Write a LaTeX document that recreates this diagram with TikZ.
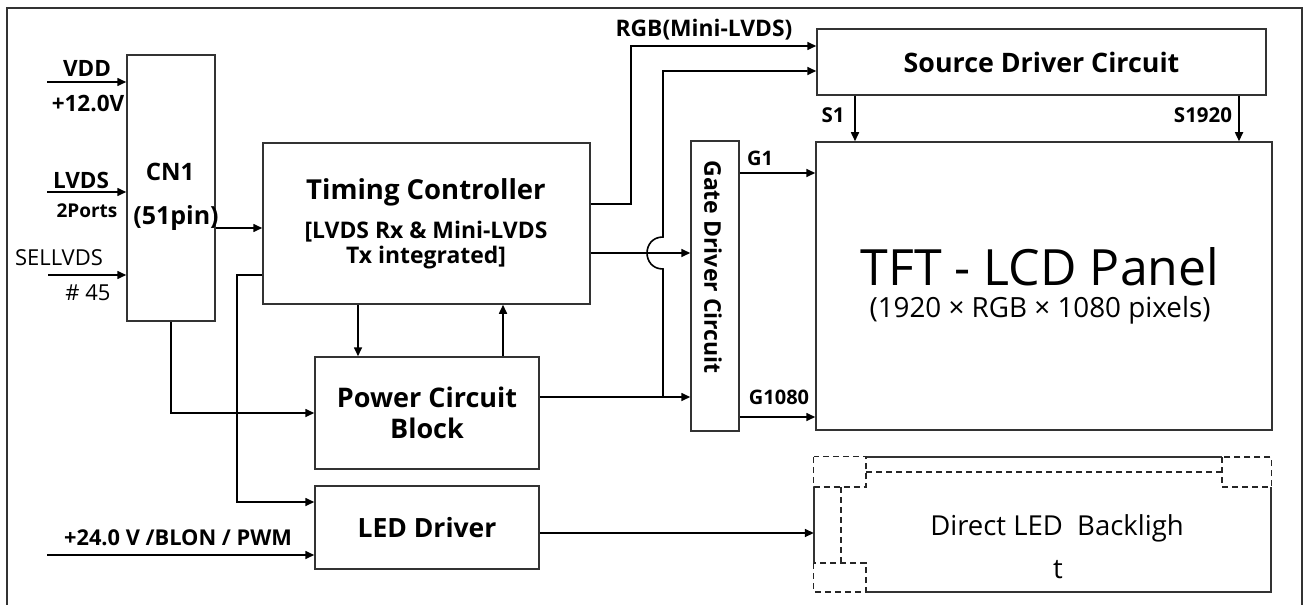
\documentclass[tikz,border=0pt]{standalone}
\usepackage{fontspec}
\setmainfont{Open Sans}
\usetikzlibrary{arrows.meta}
\newcommand{\fs}[1]{\fontsize{#1bp}{1.2\dimexpr#1bp\relax}\selectfont}
\begin{document}
\begin{tikzpicture}[x=1bp,y=-1bp,
  box/.style={draw=black!80,line width=1.5bp,inner sep=0pt,anchor=center},
  arr/.style={line width=1.6bp,-{Triangle[length=9bp,width=8bp]}},
  lbl/.style={inner sep=0pt,anchor=center,font=\bfseries\fs{22.5}},
  dsh/.style={draw=black!85,line width=1.3bp,dash pattern=on 6bp off 4bp},
  thin/.style={draw=black!80,line width=1.2bp}]
\useasboundingbox (0,0) rectangle (1308,605);
\draw[line width=1.5bp,draw=black!80] (7,8) rectangle (1302,610);

% boxes
\node[box,minimum width=88bp,minimum height=266bp] (cn1) at (171,188) {};
\node[box,minimum width=327bp,minimum height=161bp] (tc) at (426.5,223.5) {};
\node[box,minimum width=224bp,minimum height=112bp,align=center,font=\bfseries\fontsize{27bp}{31bp}\selectfont] (pcb) at (427,413) {Power Circuit\\Block};
\node[box,minimum width=224bp,minimum height=83bp,font=\bfseries\fs{26.5}] (led) at (427,527.5) {LED Driver};
\node[box,minimum width=48bp,minimum height=290bp] (gate) at (715,286) {};
\node[box,minimum width=449bp,minimum height=66bp,font=\bfseries\fs{26.8}] (sd) at (1041.5,62) {Source Driver Circuit};
\node[box,minimum width=456bp,minimum height=288bp] (panel) at (1044,286) {};
\node[inner sep=0pt,minimum width=457bp,minimum height=135bp] (bl) at (1042.5,524.5) {};

% texts inside boxes
\node[lbl,font=\bfseries\fs{24}] (cn1a) at (170,172) {CN1};
\node[lbl,font=\bfseries\fs{25}] (cn1b) at (176,218) {(51pin)};
\node[lbl,font=\bfseries\fs{27.5}] (tca) at (426,192) {Timing Controller};
\node[lbl,align=center,font=\bfseries\fontsize{22.9bp}{25bp}\selectfont] (tcb) at (426,245.5) {[LVDS Rx \& Mini-LVDS\\Tx integrated]};
\node[lbl,rotate=-90,font=\bfseries\fs{23}] (gatet) at (713,267) {Gate Driver Circuit};
\node[lbl,font=\fs{50}] (pa) at (1040,267) {TFT - LCD Panel};
\node[lbl,font=\fs{27.8}] (pb) at (1040,310) {(1920 × RGB × 1080 pixels)};
\node[lbl,font=\fs{27.5}] (bla) at (1057,528) {Direct LED~~Backligh};
\node[lbl,font=\fs{27.5}] (blb) at (1058,570) {t};

% backlight outline (solid) and dashed decoration
\draw[thin] (866,457) -- (1222,457);
\draw[thin] (1271,487) -- (1271,592) -- (866,592);
\draw[thin] (814,487) -- (814,563);
\draw[dsh] (bl.north west) rectangle (866,487);
\draw[dsh] (1222,457) rectangle (bl.north east |- 0,487);
\draw[dsh] (bl.south west |- 0,563) rectangle (866,592);
\draw[dsh] (866,472) -- (1222,472);
\draw[dsh] (841,487) -- (841,563);

% input labels
\node[lbl] (lvdd) at (87,68) {VDD};
\node[lbl] (l12) at (88,103) {+12.0V};
\node[lbl] (llvds) at (81,180) {LVDS};
\node[lbl,font=\bfseries\fs{19}] (l2p) at (87,211) {2Ports};
\node[lbl,font=\fs{22}] (lsel) at (59,258) {SELLVDS};
\node[lbl,font=\fs{22}] (l45) at (88,293) {\# 45};
\node[lbl,font=\bfseries\fs{21.8}] (l24) at (178,538) {+24.0 V /BLON / PWM};
\node[lbl,font=\bfseries\fs{22.8}] (lrgb) at (704,30) {RGB(Mini-LVDS)};
\node[lbl,font=\bfseries\fs{20.5}] (ls1) at (833,115) {S1};
\node[lbl,font=\bfseries\fs{20.5}] (ls1920) at (1203,115) {S1920};
\node[lbl,font=\bfseries\fs{20}] (lg1) at (760,158) {G1};
\node[lbl,font=\bfseries\fs{20}] (lg1080) at (779,397) {G1080};

% free ends
\coordinate (invdd) at (47,82);
\coordinate (inlvds) at (47,192);
\coordinate (insel) at (48,275);
\coordinate (in24) at (47,555);
\coordinate (jx) at (663,397);

% connectors
\draw[arr] (invdd) -- (invdd -| cn1.west);
\draw[arr] (inlvds) -- (inlvds -| cn1.west);
\draw[arr] (insel) -- (insel -| cn1.west);
\draw[arr] (in24) -- (in24 -| led.west);
\draw[arr] (cn1.east |- 0,228) -- (tc.west |- 0,228);
\draw[arr] (tc.west |- 0,275) -| (237,502) -- (led.west |- 0,502);
\draw[arr] (cn1.south) |- (pcb.west);
\draw[arr] (tc.south -| 358,0) -- (pcb.north -| 358,0);
\draw[arr] (pcb.north -| 503,0) -- (tc.south -| 503,0);
\draw[arr] (tc.east |- 0,204) -| (631,46) -- (sd.west |- 0,46);
\draw[arr] (pcb.east |- jx) -- (gate.west |- jx);
\draw[arr] (jx) -- (663,269) .. controls (641.7,269) and (641.7,237) .. (663,237) -- (663,71) -- (sd.west |- 0,71);
\draw[arr] (tc.east |- 0,253) -- (gate.west |- 0,253);
\draw[arr] (gate.east |- 0,173) -- (panel.west |- 0,173);
\draw[arr] (gate.east |- 0,417) -- (panel.west |- 0,417);
\draw[arr] (sd.south -| 855,0) -- (panel.north -| 855,0);
\draw[arr] (sd.south -| 1239,0) -- (panel.north -| 1239,0);
\draw[arr] (led.east |- 0,533) -- (bl.west |- 0,533);
\end{tikzpicture}
\end{document}
